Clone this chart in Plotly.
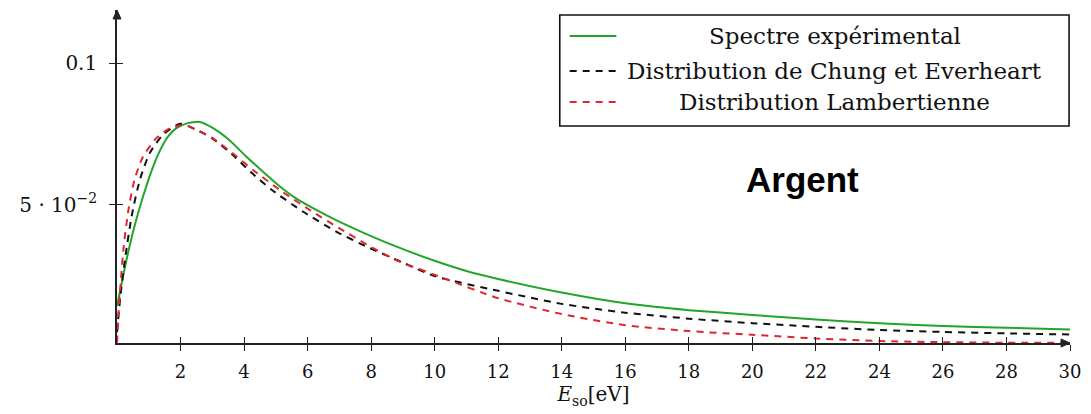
import plotly.graph_objects as go

# ---- data ----
exp_x = [0, 0.3, 0.55, 0.82, 1.08, 1.34, 1.61, 1.87, 2.2, 2.6, 3.0, 3.5, 4.05, 4.57, 5.09, 5.6, 6.2, 6.8, 7.8, 8.8, 10, 11, 12, 14, 16, 18, 20, 22, 24, 26, 28, 30]
exp_y = [0.0142, 0.0306, 0.0424, 0.0529, 0.0617, 0.0688, 0.0741, 0.0770, 0.0787, 0.0792, 0.0772, 0.0732, 0.0672, 0.0619, 0.0568, 0.0525, 0.0486, 0.0451, 0.0399, 0.0352, 0.0302, 0.0266, 0.0238, 0.0190, 0.0152, 0.0128, 0.0111, 0.0095, 0.0082, 0.0072, 0.0066, 0.0060]

ce_x = [0, 0.1, 0.25, 0.46, 0.72, 1.03, 1.45, 2.0, 2.5, 3.0, 3.7, 4.2, 4.9, 5.85, 6.9, 7.9, 8.85, 10, 12, 14, 16, 18, 20, 22, 24, 26, 28, 30]
ce_y = [0.0050, 0.0170, 0.0306, 0.0459, 0.0588, 0.0682, 0.0747, 0.0786, 0.0764, 0.0734, 0.0670, 0.0616, 0.0550, 0.0476, 0.0405, 0.0350, 0.0303, 0.0248, 0.0196, 0.0150, 0.0119, 0.0098, 0.0082, 0.0069, 0.0058, 0.0051, 0.0046, 0.0042]

lam_x = [0, 0.05, 0.2, 0.36, 0.55, 0.82, 1.24, 1.66, 2.13, 2.6, 3.0, 3.7, 4.3, 5.2, 6.1, 7.07, 7.9, 8.74, 10.3, 12, 14, 16, 18, 20, 22, 24, 26, 28, 30]
lam_y = [0.0013, 0.0120, 0.0341, 0.0482, 0.0588, 0.0670, 0.0735, 0.0770, 0.0781, 0.0760, 0.0736, 0.0676, 0.0621, 0.0546, 0.0479, 0.0412, 0.0357, 0.0307, 0.0240, 0.0170, 0.0114, 0.0075, 0.0054, 0.0041, 0.0028, 0.0019, 0.0015, 0.0013, 0.0013]

series_names = ["Spectre expérimental", "Distribution de Chung et Everheart", "Distribution Lambertienne"]
series_colors = ["#22a52a", "#111111", "#e0262e"]
series_dash = ["solid", "7px,6px", "7px,6px"]

x_ticks = list(range(2, 31, 2))
y_ticks = [0.05, 0.1]
y_ticktext = ["5 · 10<sup>−2</sup>", "0.1"]
x_title = "<i>E</i><sub>so</sub>[eV]"
annot_text = "Argent"

SERIF = "DejaVu Serif"

fig = go.Figure()
for xs, ys, name, col, dash in zip([exp_x, ce_x, lam_x], [exp_y, ce_y, lam_y],
                                   series_names, series_colors, series_dash):
    fig.add_trace(go.Scatter(x=xs, y=ys, mode="lines", name=name,
                             line=dict(color=col, width=2, dash=dash, shape="spline", smoothing=0.6),
                             showlegend=False))

axis_common = dict(showgrid=False, zeroline=False)
fig.update_layout(
    width=1091, height=414,
    margin=dict(l=117, r=14, t=10, b=71),
    paper_bgcolor="white", plot_bgcolor="white",
    xaxis=dict(range=[0, 30], showline=True, linecolor="#222", linewidth=1.6,
               ticks="outside", ticklen=6, tickwidth=1, tickcolor="#222",
               tickvals=x_ticks, ticktext=[str(t) for t in x_ticks],
               ticklabelstandoff=6,
               tickfont=dict(family=SERIF, size=18, color="#111"),
               title=dict(text=x_title, font=dict(family=SERIF, size=20, color="#111"), standoff=2),
               **axis_common),
    xaxis2=dict(overlaying="x", matches="x", anchor="y", side="bottom", showline=False,
                ticks="inside", ticklen=6, tickwidth=1, tickcolor="#222",
                tickvals=x_ticks, showticklabels=False, **axis_common),
    yaxis=dict(range=[0.0012, 0.1187], showline=True, linecolor="#222", linewidth=1.6,
               ticks="outside", ticklen=6, tickwidth=1, tickcolor="#222",
               tickvals=y_ticks, ticktext=y_ticktext, ticklabelstandoff=8,
               tickfont=dict(family=SERIF, size=20, color="#111"),
               **axis_common),
    yaxis2=dict(overlaying="y", matches="y", anchor="x", side="left", showline=False,
                ticks="inside", ticklen=6, tickwidth=1, tickcolor="#222",
                tickvals=y_ticks, showticklabels=False, **axis_common),
    showlegend=False,
)
# invisible trace to activate overlay axes (crossing tick marks)
fig.add_trace(go.Scatter(x=[None], y=[None], xaxis="x2", yaxis="y2", showlegend=False, hoverinfo="skip"))

# axis arrowheads
pw, ph = 960.0, 333.0
fig.add_shape(type="path", xref="paper", yref="paper",
              path=f"M 1,0 L {1-9/pw},{4/ph} L {1-9/pw},{-4/ph} Z",
              fillcolor="#222", line=dict(color="#222", width=1), layer="above")
fig.add_shape(type="path", xref="paper", yref="paper",
              path=f"M 0,1 L {-4/pw},{1-9/ph} L {4/pw},{1-9/ph} Z",
              fillcolor="#222", line=dict(color="#222", width=1), layer="above")

# legend box (centered text as in reference)
fig.add_shape(type="rect", xref="paper", yref="paper", x0=0.4646, x1=0.999, y0=0.6517, y1=0.985,
              line=dict(color="#111", width=1.6), fillcolor="white", layer="above")
row_y = [0.922, 0.817, 0.724]
for name, col, dash, ry in zip(series_names, series_colors, series_dash, row_y):
    fig.add_shape(type="line", xref="paper", yref="paper", x0=0.475, x1=0.524, y0=ry, y1=ry,
                  line=dict(color=col, width=2, dash=dash), layer="above")
    fig.add_annotation(x=0.753, y=ry, xref="paper", yref="paper", text=name, showarrow=False,
                       xanchor="center", yanchor="middle",
                       font=dict(family=SERIF, size=23, color="#111"))

fig.add_annotation(x=0.7195, y=0.4895, xref="paper", yref="paper", text="<b>" + annot_text + "</b>",
                   showarrow=False, xanchor="center", yanchor="middle",
                   font=dict(family="Liberation Sans", size=35, color="black"))

fig.write_html("out.html")
